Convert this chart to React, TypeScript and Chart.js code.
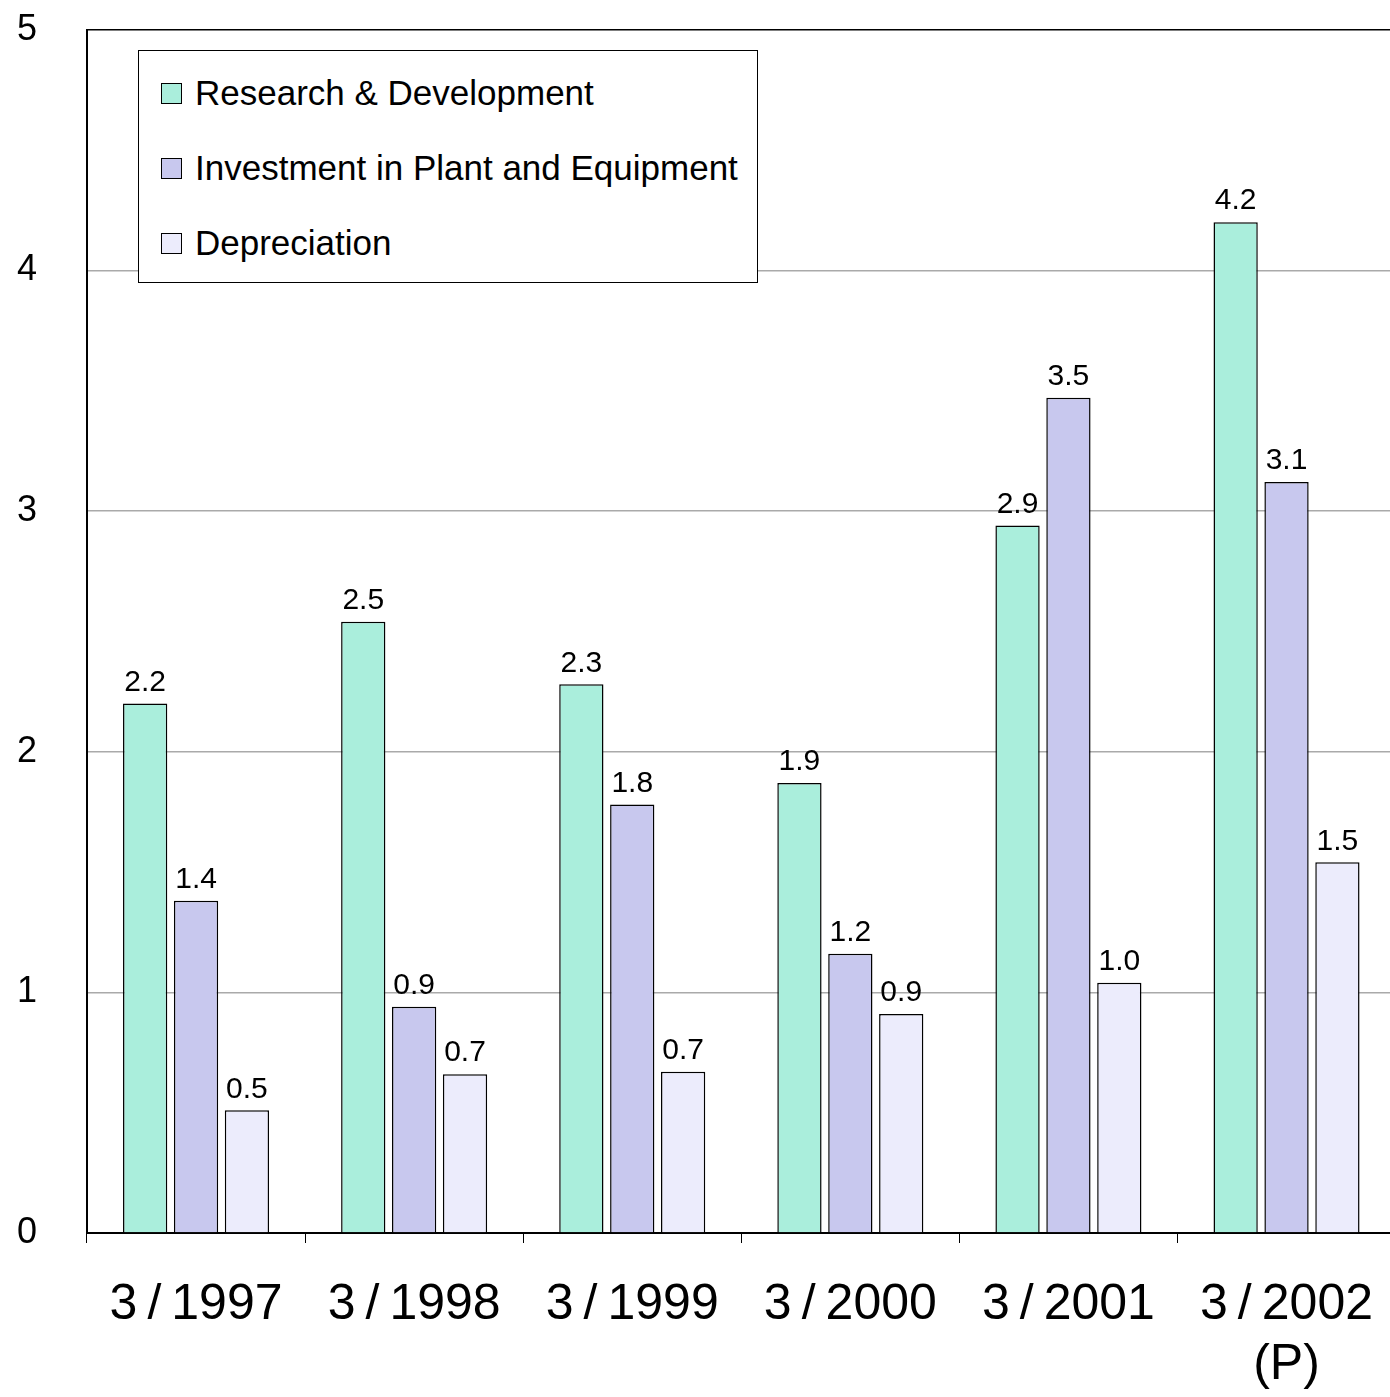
import React, { useEffect, useRef } from "react";
import { Chart, registerables } from "chart.js";
Chart.register(...registerables);

const categories: (string | string[])[] = ["3\u2009/\u20091997", "3\u2009/\u20091998", "3\u2009/\u20091999", "3\u2009/\u20092000", "3\u2009/\u20092001", ["3\u2009/\u20092002", "(P)"]];
const seriesNames = ["Research & Development", "Investment in Plant and Equipment", "Depreciation"];
const rd = [2.2, 2.54, 2.28, 1.87, 2.94, 4.2];
const inv = [1.38, 0.94, 1.78, 1.16, 3.47, 3.12];
const dep = [0.51, 0.66, 0.67, 0.91, 1.04, 1.54];
const rdLabels = ["2.2", "2.5", "2.3", "1.9", "2.9", "4.2"];
const invLabels = ["1.4", "0.9", "1.8", "1.2", "3.5", "3.1"];
const depLabels = ["0.5", "0.7", "0.7", "0.9", "1.0", "1.5"];
const yTicks = [0, 1, 2, 3, 4, 5];
const colors = ["#aaeedc", "#c8c8ee", "#ececfc"];

const FONT = "Arial, 'Liberation Sans', sans-serif";

const labelPlugin = {
  id: "valueLabels",
  afterDatasetsDraw(chart: any) {
    const ctx = chart.ctx;
    const all = [rdLabels, invLabels, depLabels];
    ctx.save();
    ctx.font = `30px ${FONT}`;
    ctx.fillStyle = "#000";
    ctx.textAlign = "center";
    ctx.textBaseline = "bottom";
    chart.data.datasets.forEach((_: any, di: number) => {
      chart.getDatasetMeta(di).data.forEach((bar: any, i: number) => {
        ctx.fillText(all[di][i], bar.x, bar.y - 6);
      });
    });
    ctx.restore();
  },
};

export default function App() {
  const ref = useRef<HTMLCanvasElement>(null);
  useEffect(() => {
    const chart = new Chart(ref.current!, {
      type: "bar",
      data: {
        labels: categories,
        datasets: [rd, inv, dep].map((d, i) => ({
          label: seriesNames[i],
          data: d,
          backgroundColor: colors[i],
          borderColor: "#000",
          borderWidth: 1.5,
          categoryPercentage: 0.7,
          barPercentage: 0.87,
        })),
      },
      options: {
        animation: false,
        responsive: false,
        maintainAspectRatio: false,
        layout: { padding: 0 },
        plugins: { legend: { display: false }, tooltip: { enabled: false } },
        scales: {
          x: {
            grid: { drawOnChartArea: false, color: "#000", tickLength: 10, offset: true },
            border: { color: "#000", width: 2 },
            ticks: { color: "#000", font: { size: 50, family: FONT }, padding: 32, maxRotation: 0 },
            afterFit: (s: any) => { s.height = 164; },
          },
          y: {
            min: 0,
            max: 5,
            afterBuildTicks: (s: any) => { s.ticks = yTicks.map((v) => ({ value: v })); },
            grid: { color: (c: any) => (c.tick.value === 5 ? "#000" : "#aaa"), lineWidth: 1.5, drawTicks: false },
            border: { color: "#000", width: 2 },
            ticks: { color: "#000", font: { size: 36, family: FONT }, padding: 50 },
            afterFit: (s: any) => { s.width = 87; },
          },
        },
      },
      plugins: [labelPlugin],
    });
    return () => chart.destroy();
  }, []);

  const items = seriesNames.map((n, i) => (
    <div key={n} style={{ position: "absolute", left: 22, top: 22 + i * 75, display: "flex", alignItems: "center" }}>
      <div style={{ width: 19, height: 19, border: "1.5px solid #000", background: colors[i], marginRight: 13 }} />
      <span style={{ fontSize: 35, fontFamily: FONT, lineHeight: "40px" }}>{n}</span>
    </div>
  ));

  return (
    <div style={{ position: "absolute", left: 0, top: 0, width: 1390, height: 1397, overflow: "hidden", background: "#fff" }}>
      <canvas ref={ref} width={1405} height={1439} style={{ position: "absolute", left: 0, top: -42, width: 1405, height: 1439, display: "block" }} />
      <div style={{ position: "absolute", left: 138, top: 50, width: 618, height: 231, border: "1.5px solid #000", background: "#fff" }}>
        {items}
      </div>
    </div>
  );
}
